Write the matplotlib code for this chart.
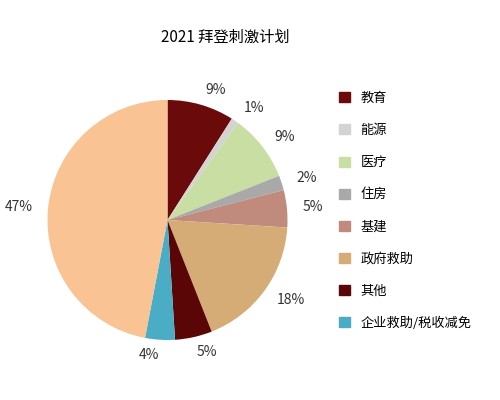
import matplotlib.pyplot as plt
from matplotlib.patches import Patch

plt.rcParams['font.family'] = ['Noto Sans CJK SC', 'DejaVu Sans']

labels = ['教育', '能源', '医疗', '住房', '基建', '政府救助', '其他', '企业救助/税收减免', '']
values = [9, 1, 9, 2, 5, 18, 5, 4, 47]
colors = ['#6B0A0A', '#D3D3D3', '#C9DEA3', '#A9A9A9', '#C08A7C', '#D5AC76', '#5A0606', '#4BACC6', '#F9C394']

fig = plt.figure(figsize=(5, 4), dpi=100)
ax = fig.add_axes([0.035, 0.07, 0.60, 0.76])
wedges, texts = ax.pie(values, colors=colors, startangle=90, counterclock=False,
                       labels=[f'{v}%' for v in values], labeldistance=1.13,
                       textprops={'fontsize': 10, 'color': '#333333'})
ax.set_aspect('equal')
fig.text(0.45, 0.895, '2021 拜登刺激计划', ha='center', fontsize=11)

handles = [Patch(color=c, label=l) for c, l in zip(colors[:8], labels[:8])]
fig.legend(handles=handles, loc='upper left', bbox_to_anchor=(0.655, 0.8),
           frameon=False, fontsize=9.5, handlelength=0.8, handleheight=0.8,
           labelspacing=1.45, handletextpad=0.8)
fig.savefig('out.png')
